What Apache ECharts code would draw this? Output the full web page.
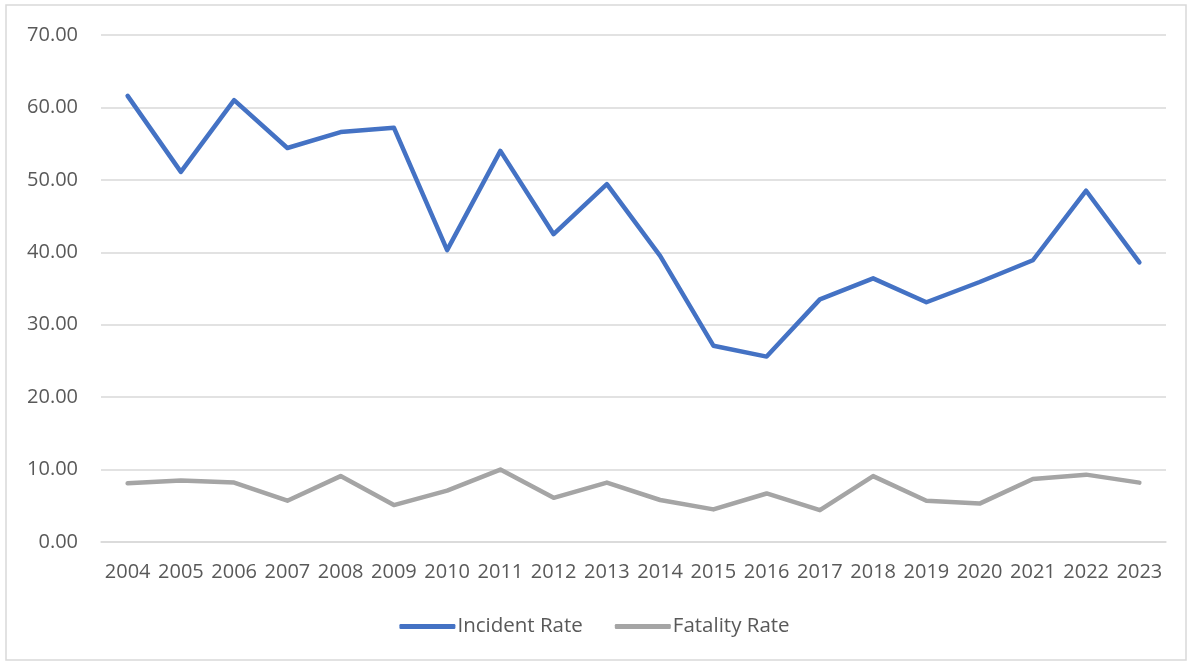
<!DOCTYPE html>
<html>
<head>
<meta charset="utf-8">
<script src="https://cdn.jsdelivr.net/npm/echarts@6/dist/echarts.min.js"></script>
<style>
  html, body { margin: 0; padding: 0; background: #fff; }
  #chart { width: 1189px; height: 663px; }
</style>
</head>
<body>
<div id="chart"></div>
<script>
var years = ['2004', '2005', '2006', '2007', '2008', '2009', '2010', '2011', '2012', '2013',
             '2014', '2015', '2016', '2017', '2018', '2019', '2020', '2021', '2022', '2023'];
var incidentRate = [61.6, 51.1, 61.0, 54.4, 56.6, 57.2, 40.3, 54.0, 42.5, 49.4,
                    39.5, 27.1, 25.6, 33.5, 36.4, 33.1, 35.9, 38.9, 48.5, 38.6];
var fatalityRate = [8.1, 8.5, 8.2, 5.7, 9.1, 5.1, 7.1, 10.0, 6.1, 8.2,
                    5.8, 4.5, 6.7, 4.4, 9.1, 5.7, 5.3, 8.7, 9.3, 8.2];

var myChart = echarts.init(document.getElementById('chart'));
var fontFamily = 'Open Sans';

var option = {
    animation: false,
    backgroundColor: '#fff',
    graphic: [{
        type: 'rect',
        shape: { x: 6, y: 5, width: 1180, height: 655 },
        style: { fill: 'none', stroke: '#d9d9d9', lineWidth: 1.5 }
    }],
    grid: { left: 101, right: 23, top: 35, bottom: 121 },
    legend: {
        bottom: 21,
        left: 'center',
        icon: 'roundRect',
        itemWidth: 56,
        itemHeight: 5,
        itemGap: 32,
        textStyle: { color: '#595959', fontSize: 20.5, fontFamily: fontFamily, padding: [0, 0, 0, -3] },
        data: ['Incident Rate', 'Fatality Rate']
    },
    xAxis: {
        type: 'category',
        data: years,
        boundaryGap: true,
        axisLine: { lineStyle: { color: '#d9d9d9', width: 1.5 } },
        axisTick: { show: false },
        axisLabel: { color: '#595959', fontSize: 20, fontFamily: fontFamily, margin: 20, interval: 0 }
    },
    yAxis: {
        type: 'value',
        min: 0,
        max: 70,
        interval: 10,
        axisLine: { show: false },
        axisTick: { show: false },
        splitLine: { lineStyle: { color: '#d9d9d9', width: 1.5 } },
        axisLabel: {
            color: '#595959', fontSize: 20, fontFamily: fontFamily, margin: 23,
            formatter: function (v) { return v.toFixed(2); }
        }
    },
    series: [
        {
            name: 'Incident Rate',
            type: 'line',
            data: incidentRate,
            symbol: 'none',
            color: '#4472C4',
            lineStyle: { width: 4.5, color: '#4472C4', cap: 'round', join: 'round' }
        },
        {
            name: 'Fatality Rate',
            type: 'line',
            data: fatalityRate,
            symbol: 'none',
            color: '#A5A5A5',
            lineStyle: { width: 4.5, color: '#A5A5A5', cap: 'round', join: 'round' }
        }
    ]
};
myChart.setOption(option);
</script>
</body>
</html>
